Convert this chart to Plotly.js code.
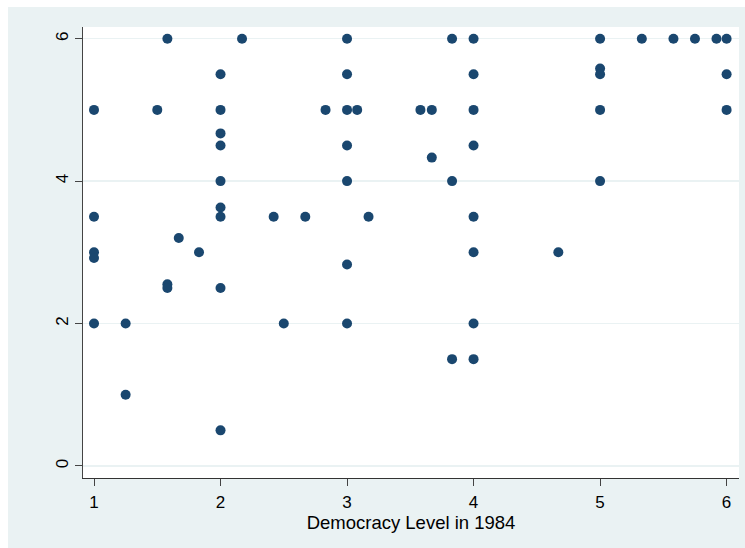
<!DOCTYPE html>
<html>
<head>
<meta charset="utf-8">
<script src="https://cdn.plot.ly/plotly-3.0.1.min.js"></script>
<style>html,body{margin:0;padding:0;background:#fff;}#chart{width:745px;height:548px;}</style>
</head>
<body>
<div id="chart"></div>
<script>
// Democracy level in 1984 (x) vs. later democracy level (y)
const democracy1984 = [
  1, 1, 1, 1, 1,
  1.25, 1.25,
  1.5,
  1.58, 1.58, 1.58,
  1.67, 1.83,
  2, 2, 2, 2, 2, 2, 2, 2, 2,
  2.17, 2.42, 2.5, 2.67, 2.83,
  3, 3, 3, 3, 3, 3, 3,
  3.08, 3.17, 3.58,
  3.67, 3.67,
  3.83, 3.83, 3.83,
  4, 4, 4, 4, 4, 4, 4, 4,
  4.67,
  5, 5, 5, 5, 5,
  5.33, 5.58, 5.75, 5.92,
  6, 6, 6
];
const democracyLater = [
  5, 3.5, 3, 2.92, 2,
  2, 1,
  5,
  6, 2.55, 2.5,
  3.2, 3,
  5.5, 5, 4.67, 4.5, 4, 3.63, 3.5, 2.5, 0.5,
  6, 3.5, 2, 3.5, 5,
  6, 5.5, 5, 4.5, 4, 2.83, 2,
  5, 3.5, 5,
  5, 4.33,
  6, 4, 1.5,
  6, 5.5, 5, 4.5, 3.5, 3, 2, 1.5,
  3,
  6, 5.58, 5.5, 5, 4,
  6, 6, 6, 6,
  6, 5.5, 5
];
const xTicks = [1, 2, 3, 4, 5, 6];
const yTicks = [0, 2, 4, 6];
const xTitle = 'Democracy Level in 1984';

const trace = {
  x: democracy1984,
  y: democracyLater,
  type: 'scatter',
  mode: 'markers',
  marker: {color: '#1a476f', size: 10, line: {width: 0}},
  hoverinfo: 'skip'
};

const W = 745, H = 548;
const m = {l: 83, r: 6.3, t: 27, b: 70};
const pw = W - m.l - m.r, ph = H - m.t - m.b;

const layout = {
  width: W, height: H,
  margin: m,
  paper_bgcolor: '#EAF2F3',
  plot_bgcolor: '#ffffff',
  showlegend: false,
  font: {family: 'Liberation Sans, Arial, sans-serif', color: '#000', size: 17},
  xaxis: {
    range: [0.913, 6.098],
    tickvals: xTicks,
    ticktext: xTicks.map(String),
    ticks: 'outside', ticklen: 7, tickcolor: '#444', tickwidth: 1,
    ticklabelstandoff: 2,
    showline: true, linecolor: '#333', linewidth: 1,
    showgrid: false, zeroline: false,
    tickfont: {size: 17},
    title: {text: xTitle, font: {size: 18.5}, standoff: 0}
  },
  yaxis: {
    range: [-0.169, 6.164],
    tickvals: yTicks,
    ticktext: yTicks.map(String),
    tickangle: -90,
    ticks: 'outside', ticklen: 7, tickcolor: '#444', tickwidth: 1,
    showline: true, linecolor: '#444', linewidth: 1,
    showgrid: true, gridcolor: '#EAF2F3', gridwidth: 1.5,
    zeroline: false,
    tickfont: {size: 17}
  },
  shapes: [
    {type: 'rect', xref: 'paper', yref: 'paper', layer: 'below',
     x0: -m.l / pw - 0.01, x1: (8 - m.l) / pw, y0: -0.2, y1: 1.2,
     fillcolor: '#ffffff', line: {width: 0}},
    {type: 'rect', xref: 'paper', yref: 'paper', layer: 'below',
     x0: -0.2, x1: 1.2, y0: 1 + (m.t - 7) / ph, y1: 1 + m.t / ph + 0.01,
     fillcolor: '#ffffff', line: {width: 0}}
  ]
};

Plotly.newPlot('chart', [trace], layout, {displayModeBar: false, staticPlot: true});
</script>
</body>
</html>
